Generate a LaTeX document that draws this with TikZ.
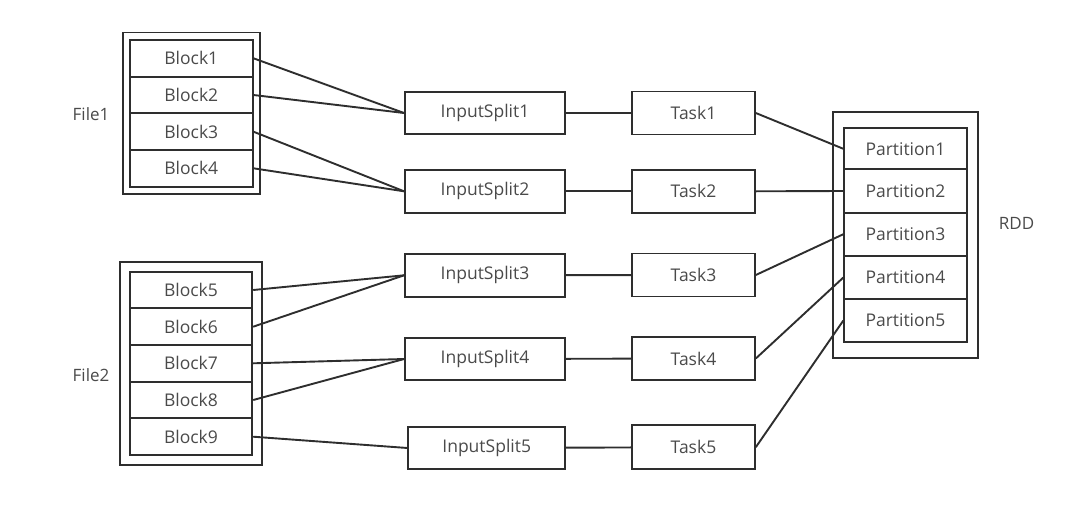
\documentclass[tikz,border=0pt]{standalone}
\usepackage{fontspec}
\setmainfont{Open Sans}
\usetikzlibrary{fit}
\definecolor{ln}{HTML}{2E2E2E}
\definecolor{tx}{HTML}{4A4A4A}
\tikzset{
  box/.style={draw=ln, line width=1.9pt, rectangle, inner sep=0pt, text=tx, font=\fontsize{17.5}{19}\selectfont},
  blockbox/.style={box, minimum width=122.5pt, minimum height=36.7pt},
  partbox/.style={box, minimum width=122.4pt, minimum height=43pt},
  splitbox/.style={box, minimum width=160pt, minimum height=42.7pt},
  taskbox/.style={box, minimum width=122.7pt, minimum height=43pt},
  outerbox/.style={draw=ln, line width=1.9pt, rectangle},
  lbl/.style={text=tx, font=\fontsize{17}{19}\selectfont},
  conn/.style={draw=ln, line width=1.9pt}
}
\begin{document}
\begin{tikzpicture}[x=1pt, y=-1pt]
\useasboundingbox (0,0) rectangle (1070,506);
% File1 blocks
\node[blockbox] (b1) at (191.3,58.3) {Block1};
\node[blockbox] (b2) at (191.3,95) {Block2};
\node[blockbox] (b3) at (191.3,131.7) {Block3};
\node[blockbox] (b4) at (191.3,168.3) {Block4};
\node[outerbox, fit=(b1)(b4), inner sep=6.5pt] (file1box) {};
\node[lbl] (file1) at (91,114) {File1};
% File2 blocks
\node[blockbox] (b5) at (191,290) {Block5};
\node[blockbox] (b6) at (191,326.7) {Block6};
\node[blockbox] (b7) at (191,363.3) {Block7};
\node[blockbox] (b8) at (191,400) {Block8};
\node[blockbox] (b9) at (191,436.7) {Block9};
\node[outerbox, fit=(b5)(b9), inner xsep=8.5pt, inner ysep=9pt] (file2box) {};
\node[lbl] (file2) at (91,375) {File2};
% Splits
\node[splitbox] (s1) at (485,113) {InputSplit1};
\node[splitbox] (s2) at (485,191.3) {InputSplit2};
\node[splitbox] (s3) at (485,275.3) {InputSplit3};
\node[splitbox] (s4) at (485,359) {InputSplit4};
\node[splitbox, minimum width=156.7pt] (s5) at (486.7,448) {InputSplit5};
% Tasks
\node[taskbox] (t1) at (693.5,113) {Task1};
\node[taskbox] (t2) at (693.5,191.3) {Task2};
\node[taskbox] (t3) at (693.5,275) {Task3};
\node[taskbox] (t4) at (693.5,358.5) {Task4};
\node[taskbox, minimum height=44pt] (t5) at (693.5,447.2) {Task5};
% Partitions
\node[partbox, minimum height=41pt] (p1) at (905.5,148.8) {Partition1};
\node[partbox] (p2) at (905.5,191) {Partition2};
\node[partbox] (p3) at (905.5,234.2) {Partition3};
\node[partbox] (p4) at (905.5,277.5) {Partition4};
\node[partbox] (p5) at (905.5,320.5) {Partition5};
\node[outerbox, fit=(p1)(p5), inner xsep=10.5pt, inner ysep=15pt] (rddbox) {};
\node[lbl] (rdd) at (1016.5,223) {RDD};
% Connectors
\draw[conn] (b1.east) -- (s1.west);
\draw[conn] (b2.east) -- (s1.west);
\draw[conn] (b3.east) -- (s2.west);
\draw[conn] (b4.east) -- (s2.west);
\draw[conn] (b5.east) -- (s3.west);
\draw[conn] (b6.east) -- (s3.west);
\draw[conn] (b7.east) -- (s4.west);
\draw[conn] (b8.east) -- (s4.west);
\draw[conn] (b9.east) -- (s5.west);
\draw[conn] (s1) -- (t1);
\draw[conn] (s2) -- (t2);
\draw[conn] (s3) -- (t3);
\draw[conn] (s4) -- (t4);
\draw[conn] (s5) -- (t5);
\draw[conn] (t1.east) -- (p1.west);
\draw[conn] (t2.east) -- (p2.west);
\draw[conn] (t3.east) -- (p3.west);
\draw[conn] (t4.east) -- (p4.west);
\draw[conn] (t5.east) -- (p5.west);
\end{tikzpicture}
\end{document}
